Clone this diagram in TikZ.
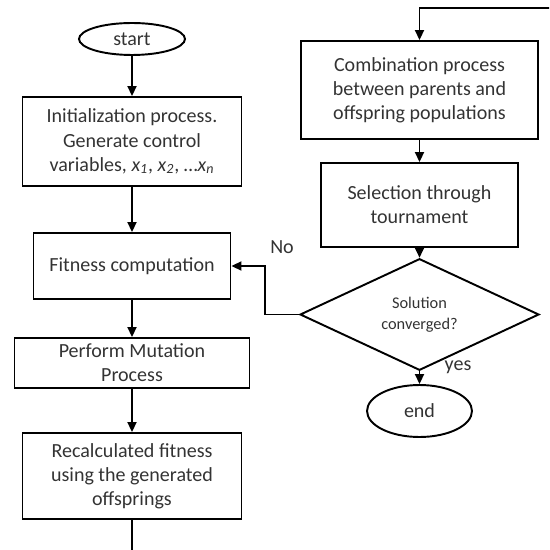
\documentclass[tikz,border=0pt]{standalone}
\usepackage{fontspec}
\setmainfont{Carlito}
\usetikzlibrary{shapes.geometric,arrows.meta}

\begin{document}
\begin{tikzpicture}[x=0.02cm,y=-0.02cm,
    line width=1.1pt,
    every node/.style={font=\fontsize{11.4}{13.7}\selectfont,text=black!80},
    procbox/.style={rectangle,draw=black,align=center,inner sep=2pt},
    termbox/.style={ellipse,draw=black,inner sep=0pt},
    askbox/.style={diamond,draw=black,align=center,inner sep=0pt,
        font=\fontsize{9.3}{12}\selectfont},
    link/.style={-{Triangle[length=2mm,width=1.8mm]}}]
                    \useasboundingbox (0,0) rectangle (549,550);
                    \clip (0,0) rectangle (549,550);
                    % Left column
                    \draw (132,39) node[termbox,minimum width=2.12cm,minimum height=0.64cm] (start) {start};
                    \draw (132,141.5) node[procbox,minimum width=4.38cm,minimum height=1.78cm] (init)
                        {Initialization process.\\Generate control\\variables, \textit{x\textsubscript{1}}, \textit{x\textsubscript{2}}, \dots\textit{x\textsubscript{n}}};
                    \draw (132,266) node[procbox,minimum width=3.94cm,minimum height=1.32cm] (fitness) {Fitness computation};
                    \draw (132,363) node[procbox,minimum width=4.7cm,minimum height=1.0cm] (mutation) {Perform Mutation\\Process};
                    \draw (132,476) node[procbox,minimum width=4.38cm,minimum height=1.72cm] (recalc)
                        {Recalculated fitness\\using the generated\\offsprings};
                    % Right column
                    \draw (419.5,90) node[procbox,minimum width=4.74cm,minimum height=1.96cm] (combo)
                        {Combination process\\between parents and\\offspring populations};
                    \draw (419.5,205) node[procbox,minimum width=3.94cm,minimum height=1.68cm] (select)
                        {Selection through\\tournament};
                    \draw (419.5,314.5) node[askbox,minimum width=4.78cm,minimum height=1.42cm] (conv)
                        {Solution\\converged?};
                    \draw (419.5,411) node[termbox,minimum width=2.1cm,minimum height=1.04cm] (end) {end};
                    % Labels
                    \node (nolabel) at (282,247) {No};
                    \node (yeslabel) at (458,367) {yes};
                    % Turn points
                    \coordinate (noturn) at (265,314.5);
                    \coordinate (loopB) at (132,570);
                    \coordinate (loopR) at (570,8);
                    % Links
                    \draw [link] (start)--(init);
                    \draw [link] (init)--(fitness);
                    \draw [link] (fitness)--(mutation);
                    \draw [link] (mutation)--(recalc);
                    \draw [link] (recalc.south)--(loopB)-|(loopR)-|(combo.north);
                    \draw [link] (combo)--(select);
                    \draw [link] (select)--(conv);
                    \draw [link] (conv)--(end);
                    \draw [link] (conv.west)--(noturn)|-(fitness.east);
                \end{tikzpicture}
\end{document}
